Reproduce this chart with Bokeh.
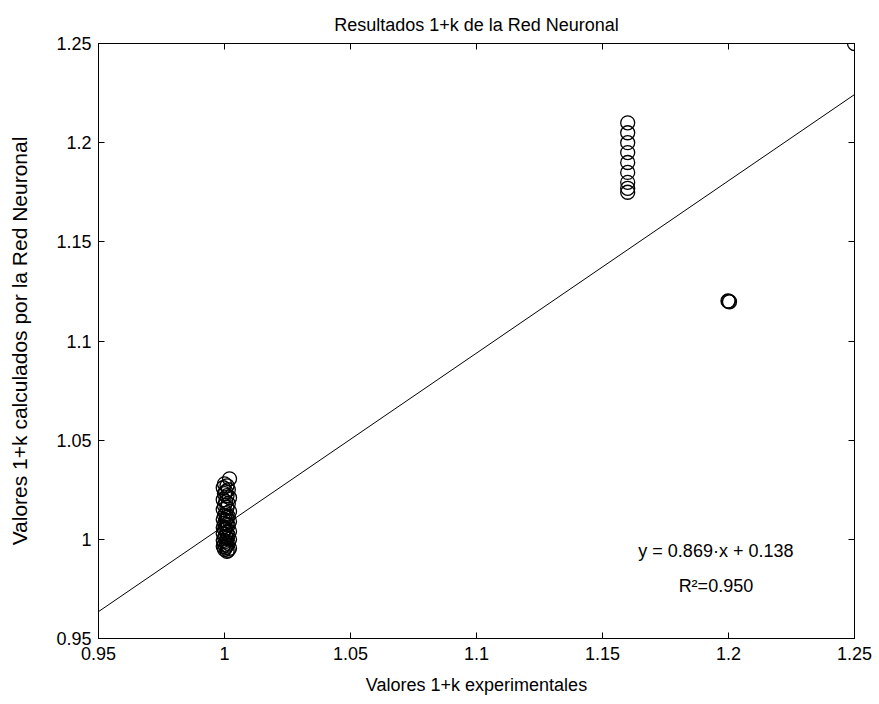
from bokeh.plotting import figure
from bokeh.models import ColumnDataSource, Range1d, LinearAxis, FixedTicker, Slope, Label
from bokeh.embed import file_html
from bokeh.resources import INLINE

FONT = "Liberation Sans"
FS = "18px"

title_text = "Resultados 1+k de la Red Neuronal"
x_label = "Valores 1+k experimentales"
y_label = "Valores 1+k calculados por la Red Neuronal"

tick_values = [0.95, 1.0, 1.05, 1.1, 1.15, 1.2, 1.25]
tick_labels = ["0.95", "1", "1.05", "1.1", "1.15", "1.2", "1.25"]

# regression
slope_a = 0.869
intercept_b = 0.138
eq_text = "y = 0.869·x + 0.138"
r2_text = "R²=0.950"

# group near 1.0 (dense column)
x_exp_1 = [1.002, 1.0, 1.001, 0.9995, 1.0015, 1.0005, 1.0, 1.001, 1.002, 0.9995,
           1.0005, 1.0015, 1.0, 1.001, 0.9995, 1.002, 1.0005, 1.0, 1.0015, 1.001,
           0.9995, 1.0005, 1.002, 1.0, 1.001, 1.0015, 0.9995, 1.0005, 1.0, 1.002,
           1.001, 0.9995, 1.0015, 1.0005, 1.0, 1.001, 1.002, 0.9995, 1.0005, 1.0015,
           1.0, 1.001, 0.9995, 1.0005, 1.002, 1.0, 1.0015, 1.001]
y_nn_1 = [1.0305, 1.028, 1.027, 1.026, 1.025, 1.024, 1.023, 1.022, 1.021, 1.020,
          1.019, 1.018, 1.017, 1.016, 1.015, 1.014, 1.013, 1.012, 1.0115, 1.011,
          1.010, 1.0095, 1.009, 1.008, 1.0075, 1.007, 1.006, 1.0055, 1.005, 1.004,
          1.0035, 1.003, 1.002, 1.0015, 1.001, 1.0005, 1.0, 0.9995, 0.999, 0.998,
          0.9975, 0.997, 0.9965, 0.996, 0.9955, 0.995, 0.9945, 0.994]
# group at 1.16
x_exp_2 = [1.16, 1.16, 1.16, 1.16, 1.16, 1.16, 1.16, 1.16, 1.16]
y_nn_2 = [1.175, 1.177, 1.18, 1.185, 1.19, 1.195, 1.20, 1.205, 1.21]
# group at 1.2
x_exp_3 = [1.2, 1.2004, 1.1998]
y_nn_3 = [1.12, 1.1198, 1.1202]
# group at 1.25
x_exp_4 = [1.25]
y_nn_4 = [1.25]

x_exp = x_exp_1 + x_exp_2 + x_exp_3 + x_exp_4
y_nn = y_nn_1 + y_nn_2 + y_nn_3 + y_nn_4

src = ColumnDataSource(dict(x=x_exp, y=y_nn))

p = figure(width=879, height=704, output_backend="svg", toolbar_location=None,
           x_range=Range1d(tick_values[0], tick_values[-1]),
           y_range=Range1d(tick_values[0], tick_values[-1]),
           min_border_left=98, min_border_right=25, min_border_top=43, min_border_bottom=66,
           background_fill_color="white", border_fill_color="white")
p.outline_line_color = "black"
p.outline_line_width = 1
p.grid.visible = False

p.title.text = title_text
p.title.align = "center"
p.title.text_font = FONT
p.title.text_font_size = FS
p.title.text_font_style = "normal"
p.title.text_color = "black"
p.title.standoff = 17

overrides = {v: l for v, l in zip(tick_values, tick_labels)}

for ax in (p.xaxis[0], p.yaxis[0]):
    ax.ticker = FixedTicker(ticks=tick_values, minor_ticks=[])
    ax.major_label_overrides = overrides
    ax.major_tick_in = 6
    ax.major_tick_out = 0
    ax.minor_tick_in = 0
    ax.minor_tick_out = 0
    ax.axis_line_color = "black"
    ax.major_tick_line_color = "black"
    ax.major_label_text_font = FONT
    ax.major_label_text_font_size = FS
    ax.major_label_text_color = "black"
    ax.axis_label_text_font = FONT
    ax.axis_label_text_font_size = FS
    ax.axis_label_text_font_style = "normal"
    ax.axis_label_text_color = "black"

p.xaxis[0].axis_label = x_label
p.xaxis[0].major_label_standoff = 8
p.xaxis[0].axis_label_standoff = 12
p.yaxis[0].axis_label = y_label
p.yaxis[0].axis_label_text_font_size = "21px"
p.yaxis[0].major_label_standoff = 7
p.yaxis[0].axis_label_standoff = 22

for loc in ("right", "above"):
    ax = LinearAxis(ticker=FixedTicker(ticks=tick_values, minor_ticks=[]),
                    major_label_text_font_size="0px", major_label_standoff=0,
                    major_tick_in=6, major_tick_out=0, minor_tick_in=0, minor_tick_out=0,
                    axis_line_color="black", major_tick_line_color="black")
    p.add_layout(ax, loc)

p.add_layout(Slope(gradient=slope_a, y_intercept=intercept_b, line_color="black", line_width=1))

p.scatter("x", "y", source=src, marker="circle", size=14, fill_color=None,
          line_color="black", line_width=1.3)

p.add_layout(Label(x=1.195, y=0.9943, text=eq_text, text_align="center", text_baseline="middle",
                   text_font=FONT, text_font_size=FS, text_color="black"))
p.add_layout(Label(x=1.195, y=0.9765, text=r2_text, text_align="center", text_baseline="middle",
                   text_font=FONT, text_font_size=FS, text_color="black"))

open("out.html", "w").write(file_html(p, INLINE))
